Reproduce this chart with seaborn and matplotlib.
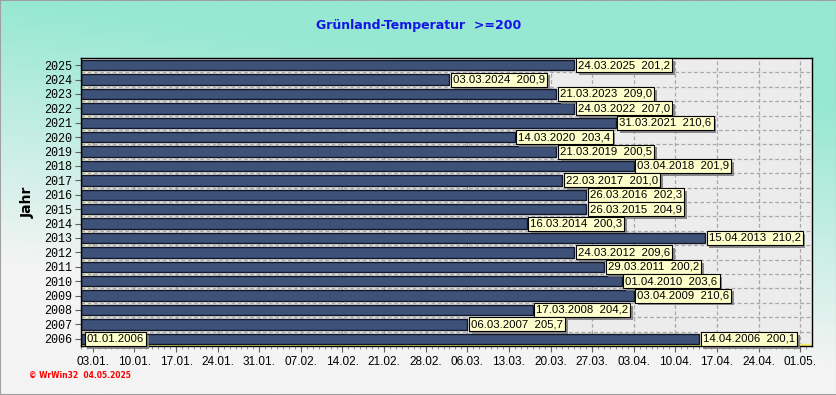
import pandas as pd
import numpy as np
import matplotlib.pyplot as plt
import matplotlib.patheffects as pe
import seaborn as sns


# Data

years = [2025, 2024, 2023, 2022, 2021, 2020, 2019, 2018, 2017, 2016,
         2015, 2014, 2013, 2012, 2011, 2010, 2009, 2008, 2007, 2006]
dates = ["24.03.2025", "03.03.2024", "21.03.2023", "24.03.2022", "31.03.2021",
         "14.03.2020", "21.03.2019", "03.04.2018", "22.03.2017", "26.03.2016",
         "26.03.2015", "16.03.2014", "15.04.2013", "24.03.2012", "29.03.2011",
         "01.04.2010", "03.04.2009", "17.03.2008", "06.03.2007", "14.04.2006"]
sums = [201.2, 200.9, 209.0, 207.0, 210.6, 203.4, 200.5, 201.9, 201.0, 202.3,
        204.9, 200.3, 210.2, 209.6, 200.2, 203.6, 210.6, 204.2, 205.7, 200.1]
start_label = "01.01.2006"

tick_labels = ["03.01.", "10.01.", "17.01.", "24.01.", "31.01.", "07.02.",
               "14.02.", "21.02.", "28.02.", "06.03.", "13.03.", "20.03.",
               "27.03.", "03.04.", "10.04.", "17.04.", "24.04.", "01.05."]

# axis runs on a leap-year calendar (28.02. + 7 days = 06.03.)
REF_YEAR = "2000"
ref_start = pd.Timestamp(REF_YEAR + "-01-01")


def day_offset(ddmm):
    return (pd.to_datetime(ddmm + REF_YEAR, format="%d.%m.%Y") - ref_start).days


df = pd.DataFrame({
    "jahr": [str(y) for y in years],
    "datum": dates,
    "summe": sums,
})
df["tage"] = [day_offset(d[:6]) for d in df["datum"]]

tick_pos = [day_offset(t) for t in tick_labels]


# ------------------------------------------------------------------
# Figure + gradient background

fig = plt.figure(figsize=(8.37, 3.95), dpi=100)

bg = fig.add_axes([0, 0, 1, 1])
yy, xx = np.mgrid[0:1:200j, 0:1:300j]
t = np.clip(yy * 1.5 - xx * 0.4, 0, 1)
top_col = np.array([150, 232, 210]) / 255
bot_col = np.array([244, 244, 244]) / 255
grad = top_col[None, None, :] * (1 - t[..., None]) + bot_col[None, None, :] * t[..., None]
bg.imshow(grad, aspect="auto", extent=[0, 1, 0, 1], origin="upper")
bg.add_patch(plt.Rectangle((0, 0), 1, 1, transform=bg.transAxes, fill=False,
                           edgecolor="#a0a0a0", linewidth=1.5))
bg.set_xlim(0, 1)
bg.set_ylim(0, 1)
bg.axis("off")

ax = fig.add_axes([81 / 837, 49 / 395, 731 / 837, 288 / 395])
ax.set_zorder(1)
ax.set_facecolor("#ececec")

# cream side wall of the pseudo-3D box
ax.axvspan(0, 2, color="#fffbd8", zorder=0)

sns.barplot(data=df, x="tage", y="jahr", order=df["jahr"].tolist(), orient="h",
            color="#3e5179", saturation=1, width=0.72, edgecolor="#111827",
            linewidth=1.0, ax=ax, zorder=2)

ax.set_xlim(0, 123)
ax.set_ylim(len(years) - 0.5, -0.5)

# yellow floor under the last bar
ax.axhspan(len(years) - 0.5, len(years) - 0.62, color="#f5ef6a", zorder=1)

# grid
ax.set_xticks(tick_pos)
ax.set_xticklabels(tick_labels, fontsize=8.5, family="Liberation Sans")
ax.set_xticks(np.arange(0, 123, 1), minor=True)
ax.set_yticks(np.arange(len(years) - 1) + 0.5, minor=True)
ax.grid(True, axis="x", which="major", color="#a8a8a8", linestyle=(0, (3, 2)), linewidth=0.9, zorder=0)
ax.grid(True, axis="y", which="minor", color="#a8a8a8", linestyle=(0, (3, 2)), linewidth=0.9, zorder=0)
ax.set_axisbelow(True)

ax.tick_params(axis="x", which="major", length=4, color="#606060", pad=3)
ax.tick_params(axis="x", which="minor", length=2, color="#808080")
ax.tick_params(axis="y", which="major", length=4, color="#606060", pad=2)
ax.tick_params(axis="y", which="minor", length=0)
for lbl in ax.get_yticklabels():
    lbl.set_family("Liberation Mono")
    lbl.set_fontsize(8.5)

for side in ["top", "right", "left", "bottom"]:
    ax.spines[side].set_color("black")
    ax.spines[side].set_linewidth(1.0)

ax.set_xlabel("")
ax.set_ylabel("Jahr", fontsize=10, fontweight="bold")
ax.yaxis.set_label_coords(-46 / 731, 0.5)


# ------------------------------------------------------------------
# Value labels with drop shadow

shadow_fx = [pe.SimplePatchShadow(offset=(2, -2), shadow_rgbFace="#808080", alpha=0.9), pe.Normal()]


def label_box(x, y, txt):
    t = ax.text(x, y, txt, fontsize=8.2, family="Liberation Sans", va="center", ha="left",
                color="black", zorder=5,
                bbox=dict(boxstyle="square,pad=0.18", facecolor="#ffffcc",
                          edgecolor="black", linewidth=0.8))
    t.get_bbox_patch().set_path_effects(shadow_fx)


for i, row in df.iterrows():
    wert = f"{row['summe']:.1f}".replace(".", ",")
    label_box(row["tage"] + 0.6, i, f"{row['datum']}  {wert}")

label_box(1.0, len(years) - 1, start_label)


# ------------------------------------------------------------------
# Title + footer

fig.text(0.5, 1 - 26 / 395, "Grünland-Temperatur  >=200", color="#1414e6",
         fontsize=9, fontweight="bold", ha="center", va="center")
fig.text(29 / 837, 1 - 375 / 395, "© WrWin32  04.05.2025", color="red",
         fontsize=5.5, fontweight="bold", ha="left", va="center")

fig.savefig("out.png", dpi=100)
